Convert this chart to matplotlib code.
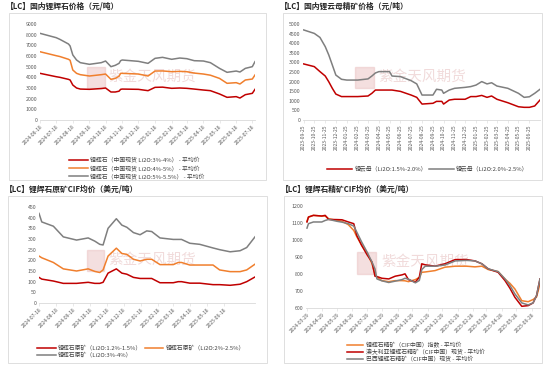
import matplotlib
matplotlib.use("Agg")
from matplotlib import pyplot as plt
from matplotlib.patches import Rectangle
import pandas as pd

plt.rcParams['font.family'] = ['Noto Sans CJK SC', 'DejaVu Sans']

RED = '#C00000'
ORANGE = '#F07F2D'
GRAY = '#7F7F7F'

# ---- panel 1: 国内锂辉石价格
dates1 = ["2024-06-18", "2024-07-18", "2024-07-25", "2024-08-10", "2024-08-13", "2024-08-18",
          "2024-08-25", "2024-09-01", "2024-09-18", "2024-10-10", "2024-10-18", "2024-10-28",
          "2024-11-05", "2024-11-12", "2024-11-15", "2024-11-18", "2024-12-18", "2025-01-05",
          "2025-01-18", "2025-02-01", "2025-02-18", "2025-03-05", "2025-03-18", "2025-04-01",
          "2025-04-18", "2025-05-01", "2025-05-18", "2025-06-01", "2025-06-18", "2025-06-25",
          "2025-07-05", "2025-07-18", "2025-07-23"]
spod_3_4 = [4375, 4060, 4000, 3810, 3750, 3280, 3000, 2900, 2875, 2950, 3000, 2625, 2625, 2700,
            2875, 2900, 2875, 2750, 3060, 3080, 2970, 3000, 2970, 2900, 2810, 2750, 2440, 2125,
            2190, 2060, 2375, 2500, 2875]
spod_4_5 = [6400, 6030, 5950, 5690, 5600, 4690, 4375, 4250, 4125, 4250, 4310, 3810, 3900, 4100,
            4375, 4375, 4310, 4125, 4590, 4600, 4530, 4560, 4530, 4400, 4310, 4200, 3900, 3440,
            3500, 3375, 3750, 3840, 4220]
spod_5_55 = [8125, 7720, 7560, 7125, 6940, 6100, 5625, 5375, 5220, 5375, 5530, 5000, 5125, 5310,
             5560, 5625, 5500, 5310, 5780, 5875, 5690, 5810, 5750, 5560, 5530, 5375, 4840, 4470,
             4590, 4500, 4840, 5000, 5470]
labels1 = ["锂辉石（中国现货 Li2O:3%-4%） - 平均价",
           "锂辉石（中国现货 Li2O:4%-5%） - 平均价",
           "锂辉石（中国现货 Li2O:5%-5.5%） - 平均价"]

# ---- panel 2: 国内锂云母精矿价格
dates2 = ["2023-09-25", "2023-10-25", "2023-11-10", "2023-11-25", "2023-12-05", "2023-12-15",
          "2023-12-25", "2024-01-10", "2024-01-25", "2024-02-25", "2024-03-25", "2024-04-05",
          "2024-04-15", "2024-04-25", "2024-05-25", "2024-06-01", "2024-06-25", "2024-07-25",
          "2024-08-10", "2024-08-25", "2024-09-25", "2024-10-05", "2024-10-20", "2024-10-25",
          "2024-11-10", "2024-11-25", "2024-12-25", "2025-01-10", "2025-01-25", "2025-02-10",
          "2025-02-25", "2025-03-10", "2025-03-25", "2025-04-25", "2025-05-25", "2025-06-10",
          "2025-06-25", "2025-07-10", "2025-07-25"]
lepi_15_20 = [2920, 2780, 2520, 2290, 1990, 1650, 1350, 1220, 1220, 1220, 1250, 1390, 1560, 1560,
              1560, 1560, 1490, 1300, 1180, 830, 870, 970, 970, 830, 1040, 1080, 1080, 1220,
              1220, 1280, 1180, 1250, 1080, 900, 690, 660, 660, 730, 1040]
lepi_20_25 = [4690, 4510, 4300, 3820, 3385, 2865, 2340, 2120, 2080, 2080, 2140, 2290, 2450, 2520,
              2520, 2290, 2260, 2050, 1880, 1300, 1300, 1600, 1560, 1390, 1560, 1650, 1700, 1740,
              1820, 2000, 1880, 1940, 1770, 1650, 1390, 1180, 1210, 1390, 1600]
labels2 = ["锂云母（Li2O:1.5%-2.0%）", "锂云母（Li2O:2.0%-2.5%）"]

# ---- panel 3: 锂辉石原矿CIF均价
dates3 = ["2024-07-18", "2024-07-23", "2024-08-13", "2024-08-31", "2024-09-24", "2024-10-15",
          "2024-10-27", "2024-11-05", "2024-11-11", "2024-11-20", "2024-12-05", "2024-12-15",
          "2024-12-24", "2025-01-05", "2025-01-17", "2025-01-29", "2025-02-07", "2025-02-22",
          "2025-03-18", "2025-03-27", "2025-04-02", "2025-04-17", "2025-05-05", "2025-05-29",
          "2025-06-10", "2025-06-29", "2025-07-17", "2025-07-29", "2025-08-13"]
raw_12_15 = [120, 112, 103, 92, 92, 97, 92, 92, 97, 140, 160, 140, 135, 120, 115, 115, 115, 95,
             95, 100, 100, 93, 93, 86, 86, 83, 88, 100, 122]
raw_2_25 = [220, 212, 190, 160, 150, 160, 148, 143, 155, 220, 257, 232, 228, 205, 197, 205, 205,
            180, 180, 190, 190, 178, 178, 178, 155, 147, 147, 155, 182]
raw_3_4 = [420, 380, 360, 310, 295, 305, 290, 275, 272, 350, 395, 365, 355, 330, 320, 338, 335,
           305, 298, 298, 298, 280, 275, 258, 250, 240, 245, 260, 310]
labels3 = ["锂辉石原矿（Li2O:1.2%-1.5%）", "锂辉石原矿（Li2O:2%-2.5%）", "锂辉石原矿（Li2O:3%-4%）"]

# ---- panel 4: 锂辉石精矿CIF均价
dates4 = ["2024-03-29", "2024-04-01", "2024-04-11", "2024-04-28", "2024-05-05", "2024-05-12",
          "2024-05-29", "2024-06-08", "2024-06-21", "2024-07-02", "2024-07-08", "2024-07-18",
          "2024-07-29", "2024-08-08", "2024-08-14", "2024-08-18", "2024-08-28", "2024-09-11",
          "2024-09-24", "2024-10-08", "2024-10-14", "2024-10-21", "2024-11-04", "2024-11-12",
          "2024-11-17", "2024-11-24", "2024-12-14", "2025-01-03", "2025-01-24", "2025-02-16",
          "2025-03-05", "2025-03-19", "2025-04-01", "2025-04-21", "2025-05-05", "2025-05-15",
          "2025-05-25", "2025-06-08", "2025-06-21", "2025-07-01", "2025-07-08", "2025-07-15"]
conc_index = [1110, 1135, 1145, 1141, 1141, 1125, 1115, 1110, 1090, 1056, 1020, 970, 925, 860,
              800, 781, 761, 755, 761, 761, 760, 755, 767, 780, 810, 812, 820, 840, 846, 846,
              842, 846, 826, 814, 770, 745, 712, 643, 637, 650, 665, 742]
conc_aus = [1106, 1135, 1145, 1141, 1145, 1121, 1120, 1119, 1106, 1096, 1027, 968, 913, 870,
            787, 785, 775, 771, 787, 795, 801, 767, 752, 781, 860, 854, 846, 860, 885, 885,
            877, 860, 830, 810, 761, 716, 663, 610, 614, 630, 673, 771]
conc_bra = [1070, 1096, 1106, 1106, 1115, 1121, 1110, 1105, 1096, 1082, 1047, 988, 929, 870,
            830, 771, 760, 750, 758, 767, 775, 770, 748, 762, 826, 846, 846, 853, 877, 880,
            877, 860, 830, 814, 771, 732, 683, 630, 618, 630, 673, 771]
labels4 = ["锂辉石精矿（CIF中国）指数 - 平均价",
           "澳大利亚锂辉石精矿（CIF中国）现货 - 平均价",
           "巴西锂辉石精矿（CIF中国）现货 - 平均价"]

titles = ["【LC】国内锂辉石价格（元/吨）", "【LC】国内锂云母精矿价格（元/吨）",
          "【LC】锂辉石原矿CIF均价（美元/吨）", "【LC】锂辉石精矿CIF均价（美元/吨）"]

W, H = 550, 366
fig = plt.figure(figsize=(5.5, 3.66), dpi=100)


def px_axes(x0, y0, x1, y1):
    # pixel box (top-left origin) -> figure axes
    return fig.add_axes([x0 / W, 1 - y1 / H, (x1 - x0) / W, (y1 - y0) / H])


def frame(x0, y0, x1, y1, title):
    fig.add_artist(Rectangle((x0 / W, 1 - y1 / H), (x1 - x0) / W, (y1 - y0) / H,
                             transform=fig.transFigure, fill=False, ec='#D9D9D9', lw=0.6))
    fig.text((x0 - 3) / W, 1 - (y0 - 7) / H, title, fontsize=5.6, fontweight='bold',
             color='#262626', va='center', ha='left')


def style(ax, ticks, rot, ymin, ymax, ystep):
    for s in ['top', 'right', 'left']:
        ax.spines[s].set_visible(False)
    ax.spines['bottom'].set_color('#D9D9D9')
    ax.spines['bottom'].set_linewidth(0.6)
    ax.set_ylim(ymin, ymax)
    ax.set_yticks(range(ymin, ymax + 1, ystep))
    ax.tick_params(axis='y', length=0, labelsize=3.8, labelcolor='#595959', pad=2)
    ax.tick_params(axis='x', length=2, width=0.4, color='#D9D9D9', labelsize=3.6,
                   labelcolor='#595959', pad=1)
    td = pd.to_datetime(ticks)
    ax.set_xticks(td)
    ax.set_xticklabels([t.strftime('%Y-%m-%d') for t in td], rotation=rot,
                       ha='right' if rot == 45 else 'center',
                       rotation_mode='anchor' if rot == 45 else 'default')
    # watermark
    ax.text(0.32, 0.45, "紫金天风期货", transform=ax.transAxes, fontsize=10.5, color='#E0B0B0',
            alpha=0.45, ha='left', va='center', zorder=0)
    ax.add_patch(Rectangle((0.22, 0.33), 0.08, 0.22, transform=ax.transAxes,
                           color='#E8BABA', alpha=0.45, zorder=0))


def legend(ax, handles, x, y, **kw):
    kw.setdefault('labelspacing', 0.2)
    ax.legend(handles=handles, loc='upper left', bbox_to_anchor=(x / W, 1 - y / H),
              bbox_transform=fig.transFigure, frameon=False, fontsize=4.2, borderpad=0,
              handletextpad=0.4, labelcolor='#404040', **kw)


lw = 1.1

# panel 1
frame(9, 13, 266, 180, titles[0])
ax1 = px_axes(40, 24, 255, 120)
d1 = pd.to_datetime(dates1)
a, = ax1.plot(d1, spod_3_4, c=RED, lw=lw, label=labels1[0])
b, = ax1.plot(d1, spod_4_5, c=ORANGE, lw=lw, label=labels1[1])
c, = ax1.plot(d1, spod_5_55, c=GRAY, lw=lw, label=labels1[2])
ax1.set_xlim(d1[0], d1[-1])
style(ax1, pd.date_range("2024-06-18", periods=14, freq=pd.DateOffset(months=1)), 45, 0, 9000, 1000)
legend(ax1, [a, b, c], 66, 154, handlelength=3.2, labelspacing=0.38)

# panel 2
frame(283, 13, 542, 180, titles[1])
ax2 = px_axes(303, 24, 540, 120)
d2 = pd.to_datetime(dates2)
a, = ax2.plot(d2, lepi_15_20, c=RED, lw=lw, label=labels2[0])
b, = ax2.plot(d2, lepi_20_25, c=GRAY, lw=lw, label=labels2[1])
ax2.set_xlim(pd.Timestamp("2023-09-23"), d2[-1])
style(ax2, pd.date_range("2023-09-25", periods=22, freq=pd.DateOffset(months=1)), 90, 0, 5000, 500)
legend(ax2, [a, b], 324, 163, handlelength=4.3, ncol=2, columnspacing=0.3)

# panel 3
frame(8, 196, 267, 363, titles[2])
ax3 = px_axes(39, 207, 255, 303)
d3 = pd.to_datetime(dates3)
a, = ax3.plot(d3, raw_12_15, c=RED, lw=lw, label=labels3[0])
b, = ax3.plot(d3, raw_2_25, c=ORANGE, lw=lw, label=labels3[1])
c, = ax3.plot(d3, raw_3_4, c=GRAY, lw=lw, label=labels3[2])
ax3.set_xlim(d3[0], d3[-1])
style(ax3, pd.date_range("2024-07-18", periods=12, freq=pd.DateOffset(months=1)), 45, 0, 450, 50)
# row-major order: red, orange / gray
legend(ax3, [a, c, b], 34, 342, handlelength=3.2, ncol=2, columnspacing=0.4)

# panel 4
frame(284, 196, 542, 363, titles[3])
ax4 = px_axes(306, 206, 540, 308)
d4 = pd.to_datetime(dates4)
a, = ax4.plot(d4, conc_index, c=ORANGE, lw=lw, label=labels4[0])
b, = ax4.plot(d4, conc_aus, c=RED, lw=lw, label=labels4[1])
c, = ax4.plot(d4, conc_bra, c=GRAY, lw=lw, label=labels4[2])
ax4.set_xlim(pd.Timestamp("2024-03-27"), d4[-1])
style(ax4, pd.date_range("2024-03-29", periods=16, freq=pd.DateOffset(months=1)), 45, 600, 1200, 100)
legend(ax4, [a, b, c], 344, 339, handlelength=2.8, labelspacing=0.12)

fig.savefig("out.png", dpi=100, facecolor='white')
